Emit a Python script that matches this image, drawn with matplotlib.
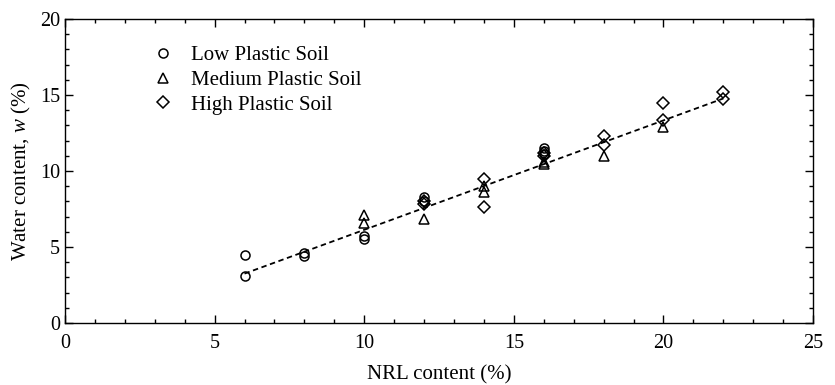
"""Water content vs NRL content for low / medium / high plastic soils."""
import matplotlib
matplotlib.use('Agg')
import matplotlib.pyplot as plt
import numpy as np

plt.rcParams['font.family'] = ['Liberation Serif', 'DejaVu Serif']
plt.rcParams['mathtext.fontset'] = 'custom'
plt.rcParams['mathtext.rm'] = 'Liberation Serif'
plt.rcParams['mathtext.it'] = 'Liberation Serif:italic'

# measured points (NRL %, water content %)
low_x = [6, 6, 8, 8, 10, 10, 12, 12, 16, 16, 16]
low_w = [4.45, 3.1, 4.6, 4.4, 5.7, 5.5, 8.3, 8.0, 11.5, 11.3, 11.1]

med_x = [10, 10, 12, 14, 14, 16, 16, 18, 20]
med_w = [7.1, 6.6, 6.85, 9.0, 8.6, 10.6, 10.45, 11.0, 12.9]

high_x = [12, 12, 14, 14, 16, 16, 18, 18, 20, 20, 22, 22]
high_w = [7.8, 8.0, 9.5, 7.65, 11.0, 11.2, 12.3, 11.7, 14.45, 13.35, 15.2, 14.75]

# linear trend across all soils
fit_x = [6, 22]
fit_slope, fit_icpt = 0.72, -1.07

fig = plt.figure(figsize=(8.35, 3.85), dpi=100)
ax = fig.add_axes([0.0778, 0.161, 0.8959, 0.7896])

mk = dict(ls='none', mfc='none', mec='black', mew=1.1)
ax.plot(low_x, low_w, marker='o', ms=6.5, label='Low Plastic Soil', **mk)
ax.plot(med_x, med_w, marker='^', ms=7.5, label='Medium Plastic Soil', **mk)
ax.plot(high_x, high_w, marker='D', ms=6.5, label='High Plastic Soil', **mk)

fx = np.array(fit_x, dtype=float)
ax.plot(fx, fit_slope * fx + fit_icpt, color='black', ls=(0, (3, 2)), lw=1.3)

ax.set_xlim(0, 25)
ax.set_ylim(0, 20)
ax.set_xticks(np.arange(0, 26, 5))
ax.set_yticks(np.arange(0, 21, 5))
ax.set_xticks(np.arange(0, 26, 1), minor=True)
ax.set_yticks(np.arange(0, 21, 1), minor=True)
ax.tick_params(which='both', direction='in', top=True, right=True, labelsize=14.5, width=1)
ax.tick_params(which='major', length=6)
ax.tick_params(which='minor', length=3)
ax.tick_params(axis='x', pad=8)
for s in ax.spines.values():
    s.set_linewidth(1)

ax.set_xlabel('NRL content (%)', fontsize=15, labelpad=9)
ax.set_ylabel('Water content, $w$ (%)', fontsize=15, labelpad=5)

ax.legend(loc='upper left', bbox_to_anchor=(0.092, 0.94), frameon=False, fontsize=15,
          handletextpad=0.35, labelspacing=0.25, borderaxespad=0)

plt.savefig('out.png', dpi=100)
